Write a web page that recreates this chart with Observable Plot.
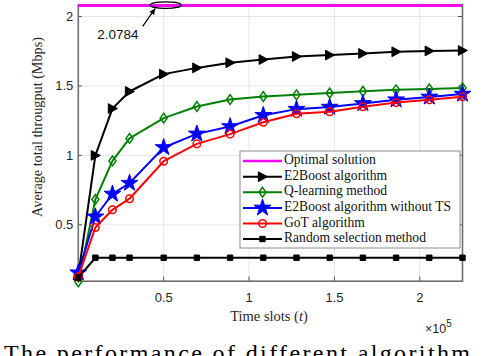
<!DOCTYPE html>
<html><head><meta charset="utf-8">
<script src="https://cdn.jsdelivr.net/npm/d3@7"></script>
<script src="https://cdn.jsdelivr.net/npm/@observablehq/plot@0.6"></script>
<style>
body{margin:0;background:#fff}
#chart{position:relative;width:500px;height:356px;overflow:hidden;background:#fff}
</style>
</head><body><div id="chart"></div>
<script>
// ---- data ----
const timeSlots   = [0, 10000, 20000, 30000, 50000, 69444, 88889, 108333, 127778, 147222, 166667, 186111, 205556, 225000];
const e2boost     = [0.135, 1.0, 1.337, 1.46, 1.585, 1.63, 1.667, 1.69, 1.712, 1.722, 1.734, 1.746, 1.752, 1.755];
const qLearning   = [0.09, 0.683, 0.96, 1.122, 1.268, 1.352, 1.402, 1.424, 1.436, 1.449, 1.461, 1.472, 1.478, 1.486];
const e2boostNoTS = [0.155, 0.558, 0.722, 0.80, 1.057, 1.155, 1.208, 1.289, 1.333, 1.348, 1.374, 1.401, 1.421, 1.442];
const gotAlg      = [0.125, 0.481, 0.608, 0.688, 0.958, 1.083, 1.153, 1.239, 1.30, 1.314, 1.35, 1.38, 1.401, 1.422];
const randomSel   = [0.12, 0.263, 0.263, 0.263, 0.263, 0.263, 0.263, 0.263, 0.263, 0.263, 0.263, 0.263, 0.263, 0.263];
const optimalValue = 2.0784;
const xTicks = [50000, 100000, 150000, 200000];
const yTicks = [0.5, 1, 1.5, 2];
const legendLabels = ["Optimal solution", "E2Boost algorithm", "Q-learning method", "E2Boost algorithm without TS", "GoT algorithm", "Random selection method"];

// ---- symbols ----
const triRight = {draw(ctx, size){ const r = Math.sqrt(size/Math.PI); ctx.moveTo(1.0*r,0); ctx.lineTo(-0.85*r,-r); ctx.lineTo(-0.85*r,r); ctx.closePath(); }};
const diamond  = {draw(ctx, size){ const r = Math.sqrt(size/Math.PI); ctx.moveTo(0,-r); ctx.lineTo(0.72*r,0); ctx.lineTo(0,r); ctx.lineTo(-0.72*r,0); ctx.closePath(); }};
const square   = {draw(ctx, size){ const r = Math.sqrt(size/Math.PI); ctx.rect(-r,-r,2*r,2*r); }};
const star = d3.symbolStar;

const series = [
  {vals: e2boost,     color: "#000000", symbol: triRight, r: 4.9, fill: "#000000", sw: 1},
  {vals: qLearning,   color: "#008000", symbol: diamond,  r: 4.9, fill: "none",    sw: 1.5},
  {vals: e2boostNoTS, color: "#0000ff", symbol: star,     r: 5.3, fill: "#0000ff", sw: 1},
  {vals: gotAlg,      color: "#ff0000", symbol: "circle", r: 3.8, fill: "none",    sw: 1.5},
  {vals: randomSel,   color: "#000000", symbol: square,   r: 2.7, fill: "#000000", sw: 1}
];

const marks = [
  Plot.gridX(xTicks, {stroke: "#e6e6e6", strokeOpacity: 1, strokeWidth: 1}),
  Plot.gridY(yTicks, {stroke: "#e6e6e6", strokeOpacity: 1, strokeWidth: 1}),
  Plot.axisX(xTicks, {tickSize: 0, tickPadding: 12, tickFormat: d => String(d/1e5), label: null, fontSize: 13, fill: "#262626"}),
  Plot.axisY(yTicks, {tickSize: 0, tickPadding: 5, tickFormat: d => String(d), label: null, fontSize: 13, fill: "#262626"}),
  Plot.ruleY(yTicks, {x1: 0, x2: 2400, stroke: "#555", strokeWidth: 1}),
  Plot.ruleY(yTicks, {x1: 225000 - 2400, x2: 225000, stroke: "#555", strokeWidth: 1}),
  Plot.ruleX(xTicks, {y1: 0.094, y2: 0.124, stroke: "#555", strokeWidth: 1}),
  Plot.frame({stroke: "#6e6e6e", strokeWidth: 1.6}),
  Plot.ruleY([optimalValue], {stroke: "#ff00ff", strokeWidth: 2.6})
];
for (const s of series) {
  const rows = timeSlots.map((x, i) => ({x, y: s.vals[i]}));
  marks.push(Plot.line(rows, {x: "x", y: "y", stroke: s.color, strokeWidth: 2}));
  marks.push(Plot.dot(rows, {x: "x", y: "y", symbol: s.symbol, r: s.r, stroke: s.color, fill: s.fill, strokeWidth: s.sw}));
}

const plot = Plot.plot({
  width: 500, height: 356,
  marginLeft: 77.8, marginRight: 38, marginTop: 4.2, marginBottom: 75.3,
  x: {domain: [0, 225000]},
  y: {domain: [0.094, 2.085]},
  style: {fontFamily: "Liberation Sans, Arial, sans-serif", fontSize: "13px", color: "#262626", background: "white", overflow: "visible"},
  marks
});
document.getElementById("chart").appendChild(plot);

// ---- annotations, labels, legend ----
const svg = d3.select(plot);
const sx = plot.scale("x"), sy = plot.scale("y");
const serif = "Liberation Serif, 'DejaVu Serif', serif";

// ellipse + arrow annotation
const ex = sx.apply(51500), ey = sy.apply(optimalValue);
const g = svg.append("g");
g.append("ellipse").attr("cx", ex).attr("cy", ey).attr("rx", 15.5).attr("ry", 3.3)
  .attr("fill", "none").attr("stroke", "#000").attr("stroke-width", 1.2);
const ax1 = sx.apply(38000), ay1 = sy.apply(1.925), ax2 = ex - 10.5, ay2 = ey + 3.3;
g.append("line").attr("x1", ax1).attr("y1", ay1).attr("x2", ax2).attr("y2", ay2).attr("stroke", "#000").attr("stroke-width", 1.2);
{
  const ang = Math.atan2(ay2 - ay1, ax2 - ax1), L = 6, W = 2.8;
  const bx = ax2 - L*Math.cos(ang), by = ay2 - L*Math.sin(ang);
  const px = -Math.sin(ang)*W, py = Math.cos(ang)*W;
  g.append("path").attr("d", `M${ax2},${ay2}L${bx+px},${by+py}L${bx-px},${by-py}Z`).attr("fill", "#000");
}
g.append("text").attr("x", sx.apply(23500)).attr("y", sy.apply(1.863)).attr("text-anchor", "middle")
  .attr("dominant-baseline", "middle").attr("font-family", "Liberation Sans, Arial, sans-serif").attr("font-size", 13.5).attr("fill", "#111").text("2.0784");

// axis labels
svg.append("text").attr("transform", "translate(42,127) rotate(-90)").attr("text-anchor", "middle")
  .attr("font-family", serif).attr("font-size", 14.2).attr("fill", "#262626").text("Average total througput (Mbps)");
const xl = svg.append("text").attr("x", 269).attr("y", 321).attr("text-anchor", "middle")
  .attr("font-family", serif).attr("font-size", 14.5).attr("fill", "#262626");
xl.append("tspan").text("Time slots (");
xl.append("tspan").attr("font-style", "italic").text("t");
xl.append("tspan").text(")");
const ex5 = svg.append("text").attr("x", 425).attr("y", 333).attr("text-anchor", "start").attr("font-family", "Liberation Sans, Arial, sans-serif").attr("font-size", 12.5).attr("fill", "#262626");
ex5.append("tspan").text("×10");
ex5.append("tspan").attr("dy", -6).attr("font-size", 10).text("5");

// caption (cut at bottom edge, as in the reference)
svg.append("text").attr("x", 4).attr("y", 361).attr("text-anchor", "start").attr("font-family", serif).attr("font-size", 24)
  .attr("fill", "#000").attr("textLength", 466).attr("lengthAdjust", "spacing").text("The performance of different algorithm");

// legend
const lg = svg.append("g");
lg.append("rect").attr("x", 240).attr("y", 151).attr("width", 220).attr("height", 97)
  .attr("fill", "#fff").attr("stroke", "#8c8c8c").attr("stroke-width", 1);
const rowsY = [161, 176.7, 192.3, 207.9, 223.5, 239];
const legendStyles = [{color: "#ff00ff", symbol: null}, ...series];
legendStyles.forEach((s, i) => {
  const y = rowsY[i];
  lg.append("line").attr("x1", 243).attr("x2", 282).attr("y1", y).attr("y2", y).attr("stroke", s.color).attr("stroke-width", s.symbol ? 2 : 2.6);
  if (s.symbol) {
    const sym = s.symbol === "circle" ? d3.symbolCircle : s.symbol;
    lg.append("path").attr("transform", `translate(262.5,${y})`).attr("d", d3.symbol(sym, Math.PI*s.r*s.r)())
      .attr("fill", s.fill).attr("stroke", s.color).attr("stroke-width", s.sw);
  }
  lg.append("text").attr("x", 284).attr("y", y).attr("text-anchor", "start").attr("dominant-baseline", "middle")
    .attr("font-family", serif).attr("font-size", 13.6).attr("fill", "#111").text(legendLabels[i]);
});
</script>
</body></html>
